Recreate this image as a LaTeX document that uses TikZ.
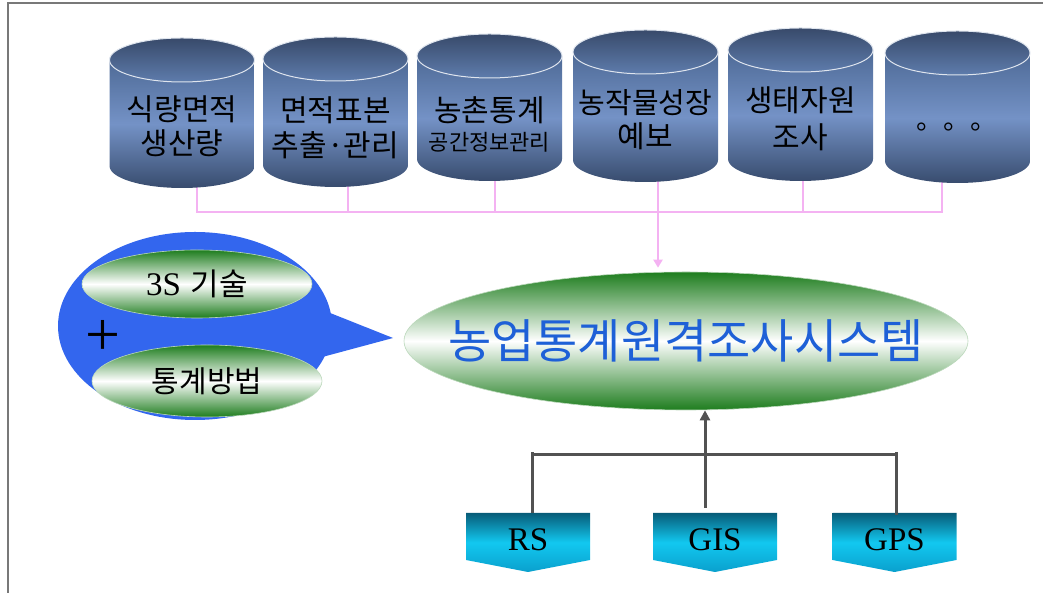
\documentclass[tikz,border=0pt]{standalone}
\usepackage{fontspec}
\setmainfont{Liberation Serif}
\newfontfamily\kr{Noto Sans CJK KR}
\usetikzlibrary{arrows.meta,calc,shapes.geometric}

\definecolor{cylTopA}{RGB}{56,74,106}
\definecolor{cylTopB}{RGB}{94,124,172}
\definecolor{cylBodyA}{RGB}{78,106,150}
\definecolor{cylBodyB}{RGB}{116,146,198}
\definecolor{cylBodyC}{RGB}{56,76,110}
\definecolor{bubble}{RGB}{51,102,238}
\definecolor{ggreen}{RGB}{30,125,30}
\definecolor{titleblue}{RGB}{30,96,215}
\definecolor{pinkline}{RGB}{244,178,242}
\definecolor{grayline}{RGB}{82,82,82}
\definecolor{boxA}{RGB}{8,92,120}
\definecolor{boxB}{RGB}{18,200,240}
\definecolor{boxC}{RGB}{10,160,205}
\definecolor{framegray}{RGB}{120,120,120}

\newcommand\drawcyl[3]{% cx, top py, bottom py
  \pgfmathsetmacro\cylT{571-#2}
  \pgfmathsetmacro\cylB{615-#3}
  \shade[top color=cylBodyA, bottom color=cylBodyC, middle color=cylBodyB]
    (#1-72.5,\cylT) -- (#1-72.5,\cylB)
    arc[start angle=180,end angle=360,x radius=72.5pt,y radius=22pt]
    -- (#1+72.5,\cylT) -- cycle;
  \shade[top color=cylTopA, bottom color=cylTopB, draw=white!80!cylTopB, line width=1pt]
    (#1,\cylT) ellipse[x radius=72.5pt, y radius=22pt];
}
\newcommand\drawbox[1]{% cx
  \shade[top color=boxA, bottom color=boxC, middle color=boxB]
    (#1-62,80) -- (#1+62,80) -- (#1+62,33) -- (#1,21) -- (#1-62,33) -- cycle;
}

\tikzset{
  cyltxt/.style={font=\kr\fontsize{30}{32}\selectfont, inner sep=0pt, text=black},
  cylsmall/.style={font=\kr\fontsize{22}{24}\selectfont, inner sep=0pt, text=black},
  gwell/.style={ellipse, inner sep=0pt, top color=ggreen, bottom color=ggreen, middle color=white, draw=white!70!ggreen, line width=0.6pt},
  pinkl/.style={draw=pinkline, line width=2.5pt},
  gline/.style={draw=grayline, line width=3pt},
  boxtxt/.style={font=\fontsize{33}{35}\selectfont, inner sep=0pt, text=black},
}

\begin{document}
\begin{tikzpicture}[x=1pt,y=1pt]
\useasboundingbox (0,0) rectangle (1043,593);

% frame
\draw[framegray, line width=2pt] (8,0) -- (8,590) -- (1043,590);

% pink connectors (behind cylinders)
\coordinate (p1) at (197,410);
\coordinate (p2) at (348,410);
\coordinate (p3) at (495,416);
\coordinate (p4) at (658,416);
\coordinate (p5) at (803,416);
\coordinate (p6) at (942,414);
\coordinate (bus) at (658,381);
\draw[pinkl] (p1) -- (p1 |- bus) -- (p6 |- bus) -- (p6);
\foreach \p in {p2,p3,p4,p5} \draw[pinkl] (\p) -- (\p |- bus);

% cylinders
\drawcyl{182}{38}{188}
\drawcyl{335.5}{37}{187}
\drawcyl{489.5}{34}{181}
\drawcyl{645.5}{30}{182}
\drawcyl{800.5}{28}{181}
\drawcyl{957.5}{31}{183}

\node[cyltxt] (c1a) at (182,484) {식량면적};
\node[cyltxt] (c1b) at (182,450) {생산량};
\node[cyltxt] (c2a) at (335.5,483) {면적표본};
\node[cyltxt] (c2b) at (335.5,448) {추출·관리};
\node[cyltxt] (c3a) at (489.5,483) {농촌통계};
\node[cylsmall] (c3b) at (489.5,451) {공간정보관리};
\node[cyltxt, font=\kr\fontsize{29}{32}\selectfont] (c4a) at (645.5,490) {농작물성장};
\node[cyltxt] (c4b) at (645.5,457) {예보};
\node[cyltxt] (c5a) at (800.5,493) {생태자원};
\node[cyltxt] (c5b) at (800.5,456) {조사};
\node[font=\kr\fontsize{27}{28}\selectfont, inner sep=0pt] (c6a) at (957,466) {。。。};

% main ellipse
\node[gwell, minimum width=564pt, minimum height=138pt] (main) at (686,252) {};
\node[font=\kr\fontsize{47}{50}\selectfont, text=titleblue, inner sep=0pt] (title) at (main.center) {농업통계원격조사시스템};
\draw[pinkl, -{Triangle[width=9pt,length=8pt]}, shorten >=4pt] (bus) -- (bus |- main.north);

% speech bubble
\fill[bubble] (195,267) ellipse[x radius=137pt, y radius=94pt];
\fill[bubble] (300,292) -- (393,255) -- (300,230) -- cycle;
\node[gwell, minimum width=230pt, minimum height=68pt] (s3) at (197,309) {};
\node[inner sep=0pt] (s3t) at (s3.center)
  {{\fontsize{33}{35}\selectfont 3S}\hspace{10pt}{\kr\fontsize{31}{35}\selectfont 기술}};
\node[gwell, minimum width=230pt, minimum height=72pt] (stat) at (207,212) {};
\node[inner sep=0pt, font=\kr\fontsize{30}{32}\selectfont] (statt) at (stat.center) {통계방법};
\node[inner sep=0pt, font=\fontsize{62}{62}\selectfont] (plus) at (103,255) {+};

% bottom boxes
\drawbox{528}
\drawbox{715}
\drawbox{894.5}
\node[boxtxt] (rs) at (528,53) {RS};
\node[boxtxt] (gis) at (715,53) {GIS};
\node[boxtxt] (gps) at (894.5,53) {GPS};

\coordinate (rsT) at (532,80);
\coordinate (gisT) at (705,85);
\coordinate (gpsT) at (896,78);
\coordinate (hbus) at (705,138);
\draw[gline] (rsT) -- ++(0,61);
\draw[gline] (gpsT) -- ++(0,63);
\draw[gline] (rsT |- hbus) -- (gpsT |- hbus);
\draw[gline, -{Triangle[width=10pt,length=10pt]}] (gisT) -- (gisT |- main.south);
\end{tikzpicture}
\end{document}
